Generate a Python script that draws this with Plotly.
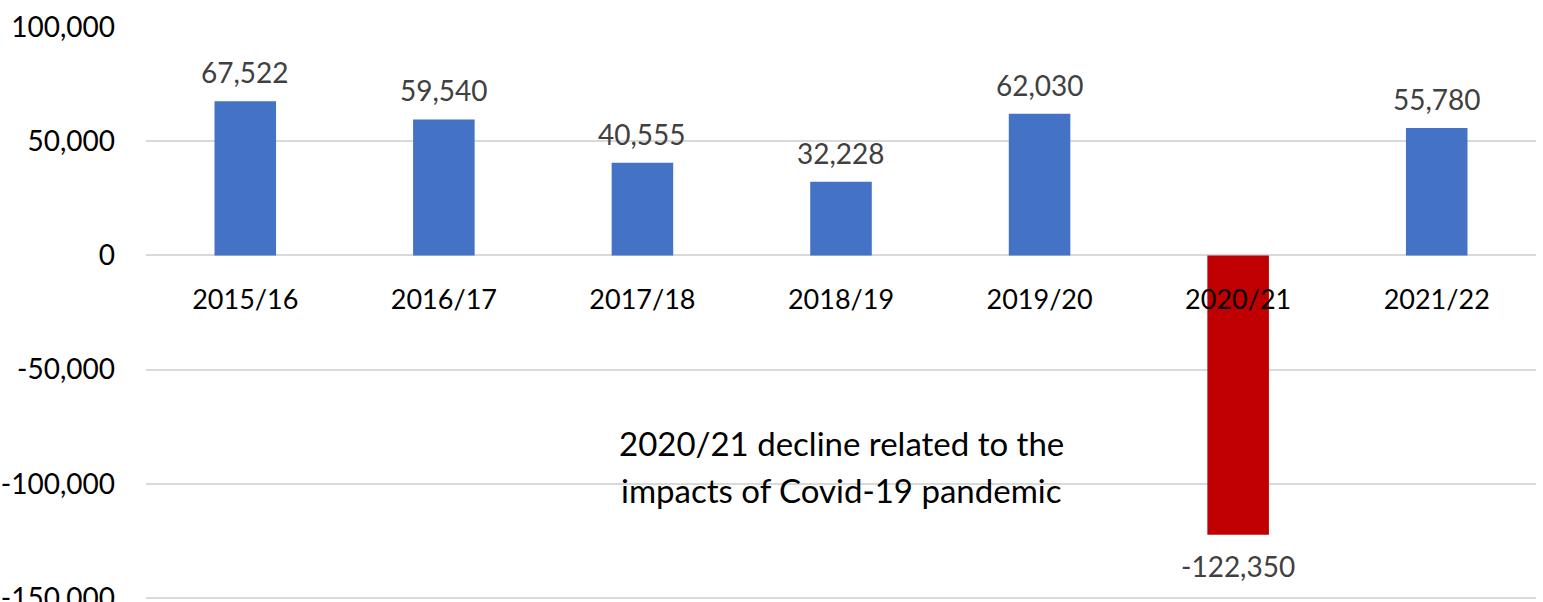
import plotly.graph_objects as go

years = ["2015/16", "2016/17", "2017/18", "2018/19", "2019/20", "2020/21", "2021/22"]
values = [67522, 59540, 40555, 32228, 62030, -122350, 55780]
y_ticks = [-150000, -100000, -50000, 0, 50000, 100000]
note_lines = ["2020/21 decline related to the", "impacts of Covid-19 pandemic"]

FONT = "Lato"
colors = ["#C00000" if v < 0 else "#4472C4" for v in values]

fig = go.Figure()
fig.add_trace(go.Bar(x=years, y=values, marker=dict(color=colors, line=dict(width=0)),
                     hoverinfo="x+y"))

for x, v in zip(years, values):
    fig.add_annotation(x=x, y=v, text=f"{v:,}", showarrow=False,
                       yanchor="bottom" if v >= 0 else "top",
                       yshift=10 if v >= 0 else -12,
                       font=dict(family=FONT, size=28, color="#404040"))

fig.add_annotation(x=0.5, xref="paper", y=-82000, text=note_lines[0], showarrow=False,
                   yanchor="middle", font=dict(family=FONT, size=33, color="#000000"))
fig.add_annotation(x=0.5, xref="paper", y=-102600, text=note_lines[1], showarrow=False,
                   yanchor="middle", font=dict(family=FONT, size=33, color="#000000"))

y_min, y_max = -150900, 100000
fig.update_layout(
    width=1543, height=602,
    margin=dict(l=146, r=7, t=27, b=2),
    plot_bgcolor="white", paper_bgcolor="white",
    bargap=0.69, showlegend=False,
    font=dict(family=FONT, size=28, color="#000000"),
)
fig.update_yaxes(range=[y_min, y_max], tickvals=y_ticks,
                 ticktext=[f"{t:,}" for t in y_ticks], automargin=False,
                 ticklabeloverflow="allow",
                 showgrid=True, gridcolor="#D9D9D9", gridwidth=1.5,
                 zeroline=True, zerolinecolor="#D9D9D9", zerolinewidth=1.5,
                 showline=False, ticks="", ticklabelstandoff=30,
                 tickfont=dict(family=FONT, size=28, color="#000000"))
fig.update_xaxes(anchor="free", position=-y_min / (y_max - y_min), showline=False,
                 showgrid=False, ticks="",
                 ticklabelstandoff=26, layer="above traces", automargin=False,
                 tickfont=dict(family=FONT, size=27, color="#000000"))

fig.write_html("out.html", config={"displayModeBar": False},
               post_script="document.body.style.margin='0';document.body.style.overflow='hidden';")
